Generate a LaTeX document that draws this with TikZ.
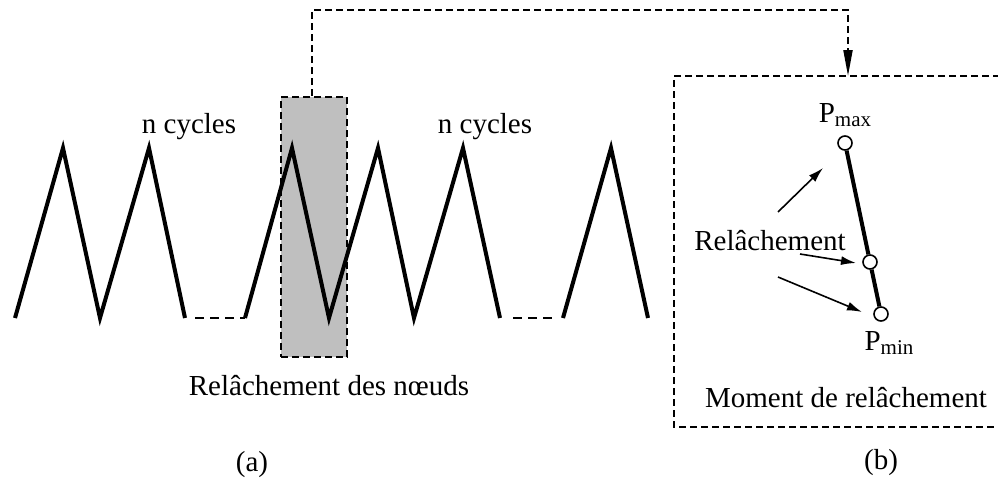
\documentclass[tikz,border=0pt]{standalone}
\usepackage{fontspec}
\setmainfont{Liberation Serif}
\usetikzlibrary{arrows.meta}
\newcommand{\sbs}[1]{\raisebox{-4pt}{\fontsize{21}{22}\selectfont #1}}
\tikzset{
  lbl/.style={inner sep=0pt, font=\fontsize{29}{34}\selectfont},
  wave/.style={line width=4pt, line join=miter},
  gap/.style={line width=2pt, dash pattern=on 9pt off 6pt},
  dsh/.style={line width=2pt, dash pattern=on 7pt off 4pt},
  selbox/.style={draw, dsh, fill=black!25, minimum width=66pt, minimum height=260pt, inner sep=0pt},
  knot/.style={circle, draw, fill=white, line width=1.6pt, minimum size=14pt, inner sep=0pt},
  bar/.style={line width=4pt},
  ptr/.style={line width=1.6pt, -{Latex[length=15pt,width=9pt]}},
}
\begin{document}
\begin{tikzpicture}[x=1pt,y=-1pt]
\useasboundingbox (0,0) rectangle (998,479);
% selection rectangle
\node[selbox] (sel) at (314,227) {};
% zigzags
\draw[wave] (15,318) -- (63,148) -- (100,318) -- (149,148) -- (185,318);
\draw[gap] (195,318) -- (245,318);
\draw[wave] (245,318) -- (292,148) -- (329,318) -- (378,148) -- (414,318) -- (463,148) -- (500,318);
\draw[gap] (513,318) -- (553,318);
\draw[wave] (563,318) -- (611,148) -- (648,318);
% labels left
\node[lbl, anchor=base] (nc1) at (189,133) {n cycles};
\node[lbl, anchor=base] (nc2) at (485,133) {n cycles};
\node[lbl, anchor=base] (rdn) at (329,395) {Relâchement des nœuds};
\node[lbl] (la) at (252,465) {(a)};
% right box
\coordinate (boxtop) at (848,76);
\draw[dsh] (1000,76) -- (674,76) -- (674,427) -- (1000,427);
% connector
\draw[dsh, -{Triangle[length=26pt,width=9pt]}] ([xshift=-2pt]sel.north) -- ++(0,-86) -| (boxtop);
% right panel
\node[knot] (c1) at (845,143) {};
\node[knot] (c2) at (870,262) {};
\node[knot] (c3) at (881,314) {};
\draw[bar] (c1) -- (c2) -- (c3);
\node[lbl, anchor=base] (pmax) at (845,122) {P\sbs{max}};
\node[lbl, anchor=base] (pmin) at (889,350) {P\sbs{min}};
\node[lbl, anchor=base] (rel) at (770,250) {Relâchement};
\coordinate (a1s) at (778,212); \coordinate (a1e) at (823,168);
\coordinate (a2s) at (800,254); \coordinate (a2e) at (856,263);
\coordinate (a3s) at (778,277); \coordinate (a3e) at (862,312);
\draw[ptr] (a1s) -- (a1e);
\draw[ptr] (a2s) -- (a2e);
\draw[ptr] (a3s) -- (a3e);
\node[lbl, anchor=base] (mom) at (846,407) {Moment de relâchement};
\node[lbl] (lb) at (881,463) {(b)};
\end{tikzpicture}
\end{document}
